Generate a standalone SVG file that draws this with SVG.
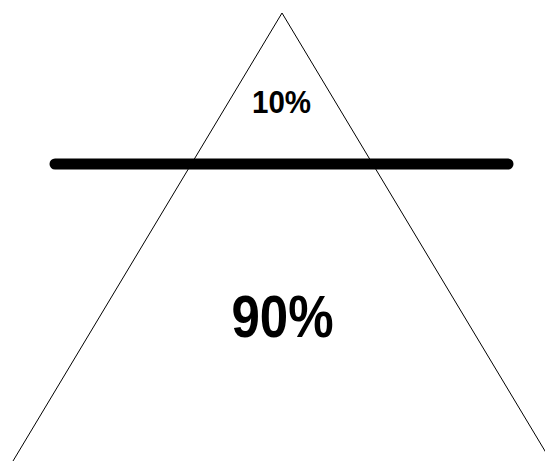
<svg xmlns="http://www.w3.org/2000/svg" width="545" height="461" viewBox="0 0 545 461">
<style>
.t{font-family:"Liberation Sans",Arial,sans-serif;font-weight:bold;fill:#000;text-anchor:middle}
</style>
<rect width="545" height="461" fill="#fff"/>
<g id="triangle"><polyline points="13,461 282,13 551,461" fill="none" stroke="#000" stroke-width="1"/></g>
<g id="connectors"><line x1="55" y1="164" x2="508" y2="164" stroke="#000" stroke-width="11" stroke-linecap="round"/></g>
<g id="top"><text class="t" transform="translate(281.5,113.3) scale(1,1.06)" font-size="29.5">10%</text></g>
<g id="bottom"><text class="t" transform="translate(282.5,336.7) scale(1,1.16)" font-size="51">90%</text></g>
</svg>
